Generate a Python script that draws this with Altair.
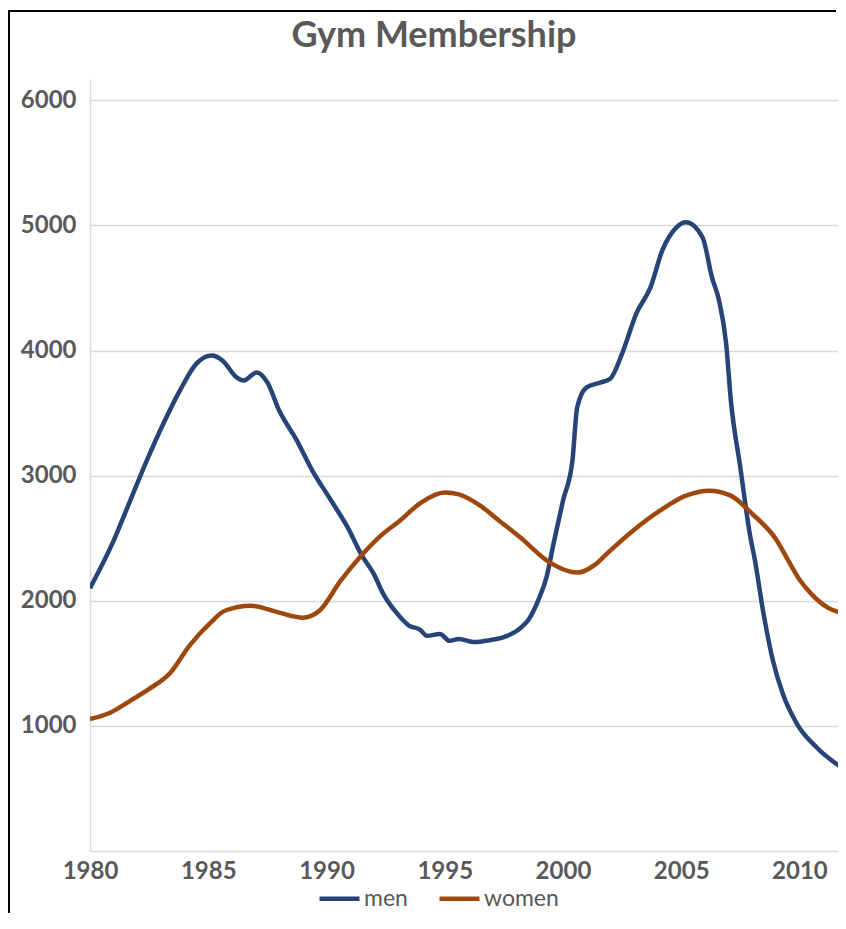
import altair as alt
import pandas as pd

# ---- data ----
men_years = [1980.0, 1981.0, 1981.7, 1982.4, 1983.1, 1983.8, 1984.5, 1985.15, 1985.6, 1986.2,
             1986.5, 1987.05, 1987.5, 1988.0, 1988.75, 1989.4, 1990.15, 1990.9, 1991.5, 1992.0,
             1992.4, 1993.0, 1993.5, 1993.95, 1994.25, 1994.8, 1995.2, 1995.6, 1996.2, 1996.9,
             1997.5, 1998.05, 1998.6, 1999.0, 1999.3, 1999.6, 2000.0, 2000.4, 2000.6, 2001.0,
             2001.6, 2002.0, 2002.5, 2003.1, 2003.7, 2004.2, 2004.8, 2005.2, 2005.9, 2006.3,
             2006.6, 2006.9, 2007.1, 2007.5, 2007.9, 2008.12, 2008.46, 2008.88, 2009.3, 2009.9,
             2010.74, 2012.0]
men_values = [2100, 2480, 2800, 3120, 3415, 3680, 3895, 3960, 3920, 3785,
              3760, 3825, 3745, 3520, 3280, 3040, 2815, 2585, 2360, 2215,
              2055, 1895, 1800, 1770, 1720, 1735, 1680, 1695, 1670, 1685,
              1710, 1760, 1865, 2025, 2185, 2455, 2800, 3120, 3545, 3705,
              3745, 3775, 3975, 4295, 4505, 4800, 4985, 5025, 4905, 4585,
              4400, 4055, 3600, 3065, 2535, 2320, 1920, 1520, 1255, 1015,
              825, 640]

women_years = [1980.0, 1980.85, 1981.7, 1982.5, 1983.4, 1984.2, 1985.1, 1985.7, 1986.8, 1988.0,
               1989.0, 1989.7, 1990.6, 1991.4, 1992.3, 1993.1, 1994.0, 1995.0, 1995.6, 1996.5,
               1997.3, 1998.2, 1999.45, 2000.6, 2001.4, 2001.85, 2002.96, 2004.1, 2005.2, 2006.2,
               2007.1, 2008.0, 2009.05, 2009.5, 2010.0, 2010.5, 2011.2, 2012.0]
women_values = [1055, 1105, 1200, 1295, 1425, 1640, 1825, 1920, 1960, 1905,
                1865, 1920, 2160, 2345, 2520, 2640, 2785, 2865, 2850, 2760,
                2640, 2505, 2305, 2225, 2295, 2375, 2560, 2720, 2840, 2880,
                2840, 2695, 2480, 2330, 2170, 2055, 1945, 1895]

series_names = ["men", "women"]
series_colors = ["#264478", "#9E480E"]
x_ticks = [1980, 1985, 1990, 1995, 2000, 2005, 2010]
y_ticks = [1000, 2000, 3000, 4000, 5000, 6000]

rows = [{"year": y, "members": v, "series": "men"} for y, v in zip(men_years, men_values)]
rows += [{"year": y, "members": v, "series": "women"} for y, v in zip(women_years, women_values)]
df = pd.DataFrame(rows)

GREY = "#595959"
GRID = "#d9d9d9"

lines = alt.Chart(df).mark_line(strokeWidth=4.5, interpolate="monotone", clip=True).encode(
    x=alt.X("year:Q",
            scale=alt.Scale(domain=[1980, 2011.63], nice=False, zero=False),
            axis=alt.Axis(values=x_ticks, format="d", title=None, grid=False, ticks=False,
                          labelFont="Lato", labelFontSize=24, labelFontWeight="bold",
                          labelColor=GREY, labelPadding=8, domainColor=GRID, domainWidth=1.5,
                          labelFlush=False, labelOverlap=False)),
    y=alt.Y("members:Q",
            scale=alt.Scale(domain=[0, 6170], nice=False),
            axis=alt.Axis(values=y_ticks, format="d", title=None, grid=True, gridColor=GRID,
                          gridWidth=1.5, ticks=False, labelFont="Lato", labelFontSize=24,
                          labelFontWeight="bold", labelColor=GREY, labelPadding=14,
                          domainColor=GRID, domainWidth=1.5)),
    color=alt.Color("series:N",
                    scale=alt.Scale(domain=series_names, range=series_colors),
                    legend=alt.Legend(title=None, orient="none", legendX=227, legendY=797,
                                      direction="horizontal", symbolType="stroke",
                                      symbolStrokeWidth=4.5, symbolSize=1600,
                                      labelFont="Lato", labelFontSize=23, labelColor=GREY,
                                      labelOffset=2, columnPadding=22)),
)

frame_data = pd.DataFrame({"k": [0]})
frame_left = alt.Chart(frame_data).mark_rule(color="black", strokeWidth=2).encode(
    x=alt.value(-81), y=alt.value(-68), y2=alt.value(842))
frame_top = alt.Chart(frame_data).mark_rule(color="black", strokeWidth=2).encode(
    x=alt.value(-82), x2=alt.value(746), y=alt.value(-68))

chart = alt.layer(frame_left, frame_top, lines).properties(
    width=748,
    height=772,
    autosize=alt.AutoSizeParams(type="none"),
    padding={"left": 82, "top": 71, "right": 0, "bottom": 62},
    title=alt.TitleParams("Gym Membership", font="Lato", fontSize=36, fontWeight="bold",
                          color=GREY, anchor="middle", offset=-45, dx=-30),
).configure_view(stroke=None)

chart.save("out.html", embed_options={"renderer": "svg", "actions": False})
